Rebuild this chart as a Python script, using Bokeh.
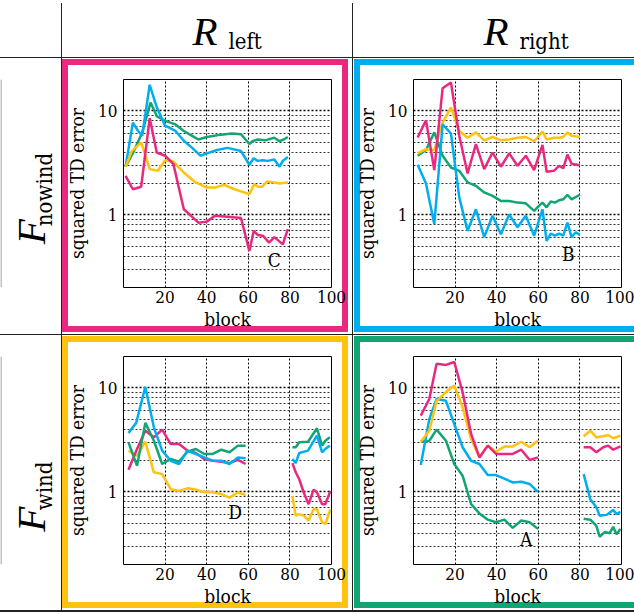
import math
from bokeh.plotting import figure
from bokeh.layouts import row, column
from bokeh.models import Range1d, FixedTicker, NumeralTickFormatter, Spacer
from bokeh.embed import file_html
from bokeh.resources import INLINE
from bokeh.core.properties import value

NaN = float("nan")

MAGENTA = "#E9297F"
CYAN = "#00AEEF"
YELLOW = "#FFC20E"
GREEN = "#12A574"
LINE = "#222222"
SERIF = "DejaVu Serif Condensed"
ITALIC = "Liberation Serif"

# ---------------- data ----------------
x_tick_values = [20, 40, 60, 80, 100]
y_major_ticks = [1, 10]
y_minor_ticks = [0.3, 0.4, 0.5, 0.6, 0.7, 0.8, 0.9, 2, 3, 4, 5, 6, 7, 8, 9]

column_titles = [("R", "left"), ("R", "right")]
row_titles = [("F", "nowind"), ("F", "wind")]

# F_nowind, R_left  (panel C)
nl_green_x = [1, 5, 9, 13, 16, 20, 25, 29, 33, 36, 40, 47, 52, 56.5, 60.5, 62, 64.5, 68, 72.5, 75, 77, 79]
nl_green_y = [2.9, 4.1, 6.2, 12.0, 8.9, 8.0, 7.4, 6.4, 5.75, 5.3, 5.6, 5.9, 6.05, 5.95, 4.8, 5.1, 5.3, 5.2, 5.5, 5.1, 5.3, 5.6]
nl_cyan_x = [1, 4.5, 7, 9, 12.6, 16, 20, 25, 29, 33, 37, 40, 45, 50, 56.5, 60.5, 62.6, 64.5, 67, 69.4, 72.5, 75, 76.6, 79]
nl_cyan_y = [2.9, 7.7, 6.4, 5.75, 17.8, 10.8, 7.2, 6.4, 5.15, 4.4, 3.7, 3.9, 4.2, 4.4, 4.1, 3.03, 3.5, 3.3, 3.35, 3.3, 3.4, 2.9, 3.3, 3.6]
nl_yellow_x = [1, 4, 8.5, 12.6, 16.5, 20, 24, 29, 34, 40, 44, 48.4, 53, 60.5, 62.9, 64.5, 66.6, 69, 72.5, 75, 79]
nl_yellow_y = [2.9, 4.1, 4.96, 2.75, 2.65, 3.35, 3.25, 2.55, 2.09, 1.83, 1.83, 1.94, 1.77, 1.58, 1.97, 1.86, 1.86, 2.09, 2.05, 2.0, 2.05]
nl_magenta_x = [1, 4.5, 8.5, 12.6, 16, 20, 24, 29, 32, 36, 40, 44, 50, 56.5, 60.5, 62.6, 64.5, 67, 70, 72.5, 76.6, 79]
nl_magenta_y = [2.37, 1.76, 1.86, 8.5, 3.97, 3.7, 3.07, 1.13, 1.0, 0.84, 0.86, 0.98, 0.96, 0.93, 0.45, 0.70, 0.64, 0.63, 0.54, 0.61, 0.52, 0.73]

# F_nowind, R_right  (panel B)
nr_magenta_x = [2, 6, 10, 14, 18, 22, 26, 30, 34, 38, 42, 46, 50, 54, 58, 62, 64, 67.5, 70, 72, 74, 76, 80]
nr_magenta_y = [5.54, 8.1, 2.69, 16.5, 18.7, 5.75, 2.5, 4.78, 2.75, 3.97, 2.9, 3.9, 2.96, 3.7, 2.69, 4.7, 2.6, 2.65, 2.96, 2.8, 3.8, 3.1, 3.0]
nr_yellow_x = [2, 6, 10, 14, 18, 22, 26, 30, 34, 38, 42, 46, 50, 54, 58, 62, 64, 67.5, 70, 72, 74, 76, 80]
nr_yellow_y = [3.9, 4.28, 4.2, 7.7, 10.8, 6.4, 5.5, 6.2, 5.2, 5.6, 5.2, 5.3, 5.5, 5.6, 5.1, 6.3, 5.3, 5.5, 5.5, 5.6, 6.2, 5.75, 5.6]
nr_green_x = [2, 6, 10, 14, 18, 22, 26, 30, 34, 38, 42, 46, 50, 54, 58, 60.3, 62, 64, 66, 68, 70, 72, 74, 76, 80]
nr_green_y = [3.7, 4.2, 6.2, 3.7, 2.85, 2.65, 2.05, 1.9, 1.64, 1.52, 1.36, 1.36, 1.31, 1.29, 1.09, 1.22, 1.31, 1.18, 1.34, 1.31, 1.38, 1.41, 1.56, 1.41, 1.56]
nr_cyan_x = [2, 6, 10, 14, 18, 22, 26, 30, 34, 38, 42, 46, 50, 54, 58, 62, 64, 66, 68, 70, 72, 74, 76, 78, 80]
nr_cyan_y = [3.03, 2.0, 0.81, 7.4, 6.05, 1.47, 0.70, 1.13, 0.61, 0.98, 0.65, 1.01, 0.76, 0.98, 0.63, 1.13, 0.56, 0.66, 0.63, 0.66, 0.63, 0.84, 0.61, 0.68, 0.64]

# F_wind, R_left  (panel D)
wl_cyan_x = [2.4, 6.1, 10.5, 14.6, 18.6, 22.7, 26.7, 30.7, 34.8, 38.8, 42.9, 47, 51, 55, 58.7, NaN, 81.2, 82.8, 84.5, 88.7, 93, 95.5, 97, 99.2]
wl_cyan_y = [3.68, 4.6, 10.2, 4.17, 2.49, 1.99, 1.85, 2.49, 2.31, 2.14, 1.99, 1.99, 1.85, 2.14, 2.1, NaN, 2.07, 1.89, 2.36, 2.49, 3.47, 2.4, 2.58, 2.78]
wl_green_x = [2.4, 6.5, 10.5, 14.6, 18.6, 22.7, 26.7, 30.7, 34.8, 38.8, 42.9, 47, 51, 55, 58.7, NaN, 81.2, 82.8, 84.5, 88.7, 93, 95.5, 97, 99.2]
wl_green_y = [2.99, 1.78, 4.6, 3.1, 1.85, 2.07, 1.95, 2.43, 2.58, 2.31, 2.31, 2.54, 2.4, 2.78, 2.78, NaN, 2.68, 2.68, 2.99, 3.03, 4.08, 2.78, 3.1, 3.34]
wl_magenta_x = [2.4, 6.5, 10.5, 14.6, 18.6, 22.7, 26.7, 30.7, 34.8, 38.8, 42.9, 47, 51, 55, 58.7, NaN, 81.2, 82.8, 84.5, 86.6, 89, 91.4, 93, 95.5, 97, 99.5]
wl_magenta_y = [1.63, 2.58, 3.87, 3.34, 3.96, 2.88, 2.88, 2.49, 2.36, 2.07, 1.99, 1.95, 1.89, 2.03, 1.85, NaN, 1.89, 1.54, 1.32, 0.99, 0.76, 1.05, 0.99, 0.76, 0.76, 1.02]
wl_yellow_x = [2.4, 6.5, 10.5, 14.6, 18.6, 22.7, 26.7, 30.7, 34.8, 38.8, 42.9, 47, 51, 55, 58.7, NaN, 81.2, 82.8, 84.5, 86.6, 89, 91.4, 93, 95.5, 97, 99.5]
wl_yellow_y = [2.49, 2.22, 3.03, 1.54, 1.48, 1.06, 1.02, 1.08, 1.05, 0.99, 0.99, 0.95, 0.88, 0.99, 0.93, NaN, 0.91, 0.59, 0.61, 0.59, 0.53, 0.68, 0.68, 0.51, 0.49, 0.68]

# F_wind, R_right  (panel A)
wr_magenta_x = [3.5, 7.6, 11.1, 15.6, 19.6, 23.6, 27.7, 31.7, 35.7, 39.7, 43.7, 47.7, 51.8, 55.8, 59.8, NaN, 81.8, 85, 87.9, 91.2, 93.6, 96, 99.5]
wr_magenta_y = [5.41, 7.8, 17.0, 16.6, 17.7, 9.1, 3.6, 2.14, 2.78, 2.31, 2.31, 2.31, 2.54, 2.03, 2.14, NaN, 2.68, 2.68, 2.4, 2.68, 2.78, 2.54, 2.73]
wr_yellow_x = [3.5, 7.6, 11.1, 15.6, 19.6, 23.6, 27.7, 31.7, 35.7, 39.7, 43.7, 47.7, 51.8, 55.8, 59.8, NaN, 81.8, 85, 87.9, 91.2, 93.6, 96, 99.5]
wr_yellow_y = [3.03, 3.87, 7.5, 9.1, 10.5, 6.5, 3.22, 2.14, 2.78, 2.43, 2.73, 2.73, 3.03, 2.68, 3.1, NaN, 3.42, 3.87, 3.34, 3.42, 3.52, 3.27, 3.47]
wr_cyan_x = [3.5, 7.6, 11.1, 15.6, 19.6, 23.6, 27.7, 31.7, 35.7, 39.7, 43.7, 47.7, 51.8, 55.8, 59.8, NaN, 81.8, 85, 87.9, 89.5, 92.8, 96, 97.6, 99.5]
wr_cyan_y = [1.81, 5.0, 7.8, 7.5, 4.49, 2.68, 1.99, 1.85, 1.45, 1.45, 1.34, 1.23, 1.25, 1.19, 1.0, NaN, 1.48, 0.85, 0.71, 0.59, 0.6, 0.67, 0.61, 0.64]
wr_green_x = [3.5, 7.6, 11.1, 15.6, 19.6, 23.6, 27.7, 31.7, 35.7, 39.7, 43.7, 47.7, 51.8, 55.8, 59.8, NaN, 81.8, 85, 87.9, 89.5, 91.9, 94.3, 96, 97.6, 99.5]
wr_green_y = [3.03, 3.1, 3.96, 3.1, 1.85, 1.43, 0.76, 0.62, 0.54, 0.51, 0.54, 0.45, 0.53, 0.51, 0.44, NaN, 0.55, 0.54, 0.47, 0.37, 0.41, 0.4, 0.46, 0.39, 0.44]


# ---------------- helpers ----------------
def plain(w, h):
    p = figure(width=w, height=h, x_range=Range1d(0, w), y_range=Range1d(0, h),
               x_axis_type=None, y_axis_type=None, min_border=0,
               output_backend="svg", toolbar_location=None,
               outline_line_color=None, background_fill_color="white",
               border_fill_color="white")
    p.xgrid.visible = False
    p.ygrid.visible = False
    return p


def rect_px(p, h, x0, x1, y0, y1, color):
    p.quad(left=[x0], right=[x1], top=[h - y0], bottom=[h - y1],
           fill_color=color, line_color=None)


def vline(h, start=0):
    bg = f"linear-gradient(to bottom, white {start}px, {LINE} {start}px)"
    return Spacer(width=1, height=h, styles={"background": bg})


def hline(w, h=1):
    return Spacer(width=w, height=h, styles={"background": LINE})


def put_text(p, h, x, y, txt, size, font, style="normal", angle=0.0, align="left"):
    p.text(x=[x], y=[h - y], text=[txt], angle=angle,
           text_font=value(font), text_font_style=style,
           text_font_size=size, text_color="black",
           text_align=align, text_baseline="middle")


def make_panel(w, h, fl, ft, fw, fh, shadow, series, letter, lx, ly):
    p = figure(width=w, height=h, x_range=Range1d(0, 100),
               y_range=Range1d(0.2, 20), y_axis_type="log",
               output_backend="svg", toolbar_location=None,
               min_border_left=fl, min_border_right=w - fl - fw,
               min_border_top=ft, min_border_bottom=h - ft - fh,
               background_fill_color="white", border_fill_color=None,
               outline_line_color="black", outline_line_width=1,
               outline_line_alpha=1, styles={"box-shadow": shadow})
    p.xaxis.ticker = FixedTicker(ticks=x_tick_values)
    p.yaxis.ticker = FixedTicker(ticks=y_major_ticks, minor_ticks=y_minor_ticks)
    p.yaxis.formatter = NumeralTickFormatter(format="0")
    p.xaxis.axis_label = "block"
    p.yaxis.axis_label = "squared TD error"
    for ax in (p.xaxis[0], p.yaxis[0]):
        ax.major_tick_out = 0
        ax.major_tick_in = 0
        ax.minor_tick_out = 0
        ax.minor_tick_in = 0
        ax.axis_line_color = None
        ax.major_label_text_font = SERIF
        ax.major_label_text_font_size = "17px"
        ax.major_label_text_color = "black"
        ax.axis_label_text_font = SERIF
        ax.axis_label_text_font_size = "19px"
        ax.axis_label_text_font_style = "normal"
        ax.axis_label_text_color = "black"
    p.xaxis.major_label_standoff = 3
    p.xaxis.axis_label_standoff = 2
    p.yaxis.major_label_standoff = 6
    p.yaxis.axis_label_standoff = 7
    p.xgrid.grid_line_color = "black"
    p.xgrid.grid_line_dash = "2 2"
    p.xgrid.grid_line_width = 1
    p.ygrid.grid_line_color = "black"
    p.ygrid.grid_line_dash = "2 2"
    p.ygrid.grid_line_width = 1.3
    p.ygrid.minor_grid_line_color = "black"
    p.ygrid.minor_grid_line_dash = "2 2"
    p.ygrid.minor_grid_line_width = 0.8

    for xs, ys, c in series:
        p.line(xs, ys, line_color=c, line_width=2.5)

    p.text(x=[lx], y=[ly], text=[letter], text_font=value(SERIF),
           text_font_size="19px", text_color="black",
           text_align="center", text_baseline="middle")
    return p


def shadow_full(color):
    return ("inset 0 1px 0 0 white, inset -4px 0 0 0 white, inset 0 -2px 0 0 white, "
            f"inset 0 7px 0 0 {color}, inset 6px 0 0 0 {color}, "
            f"inset -10px 0 0 0 {color}, inset 0 -8px 0 0 {color}")


def shadow_open(color):
    return ("inset 1px 0 0 0 white, inset 0 1px 0 0 white, inset 0 -2px 0 0 white, "
            f"inset 7px 0 0 0 {color}, inset 0 7px 0 0 {color}, inset 0 -8px 0 0 {color}")


# ---------------- header row ----------------
corner = plain(61, 57)
head_l = plain(290, 57)
put_text(head_l, 57, 130, 30, column_titles[0][0], "41px", ITALIC, "italic")
put_text(head_l, 57, 166, 41, column_titles[0][1], "22px", SERIF)
head_r = plain(281, 57)
put_text(head_r, 57, 130, 30, column_titles[1][0], "41px", ITALIC, "italic")
put_text(head_r, 57, 166, 41, column_titles[1][1], "22px", SERIF)

# ---------------- row labels ----------------
lab_b = plain(61, 276)
rect_px(lab_b, 276, 0, 1, 0, 276, "#888888")
put_text(lab_b, 276, 30, 260 - 58, row_titles[0][0], "41px", ITALIC, "italic", math.pi / 2, "center")
put_text(lab_b, 276, 44, 204 - 58, row_titles[0][1], "22px", SERIF, "normal", math.pi / 2, "center")

lab_c = plain(61, 275)
rect_px(lab_c, 275, 0, 1, 0, 275, "#888888")
put_text(lab_c, 275, 30, 550 - 335, row_titles[1][0], "41px", ITALIC, "italic", math.pi / 2, "center")
put_text(lab_c, 275, 44, 506 - 335, row_titles[1][1], "22px", SERIF, "normal", math.pi / 2, "center")

# ---------------- panels ----------------
p1 = make_panel(290, 276, 61, 21, 208, 208, shadow_full(MAGENTA),
                [(nl_green_x, nl_green_y, GREEN), (nl_cyan_x, nl_cyan_y, CYAN),
                 (nl_yellow_x, nl_yellow_y, YELLOW), (nl_magenta_x, nl_magenta_y, MAGENTA)],
                "C", 72.5, 0.37)
p2 = make_panel(281, 276, 60, 21, 208, 208, shadow_open(CYAN),
                [(nr_green_x, nr_green_y, GREEN), (nr_yellow_x, nr_yellow_y, YELLOW),
                 (nr_magenta_x, nr_magenta_y, MAGENTA), (nr_cyan_x, nr_cyan_y, CYAN)],
                "B", 74.4, 0.42)
p3 = make_panel(290, 275, 61, 21, 208, 208, shadow_full(YELLOW),
                [(wl_yellow_x, wl_yellow_y, YELLOW), (wl_magenta_x, wl_magenta_y, MAGENTA),
                 (wl_green_x, wl_green_y, GREEN), (wl_cyan_x, wl_cyan_y, CYAN)],
                "D", 53.7, 0.64)
p4 = make_panel(281, 275, 60, 21, 208, 208, shadow_open(GREEN),
                [(wr_green_x, wr_green_y, GREEN), (wr_cyan_x, wr_cyan_y, CYAN),
                 (wr_yellow_x, wr_yellow_y, YELLOW), (wr_magenta_x, wr_magenta_y, MAGENTA)],
                "A", 54.2, 0.35)

layout = column(
    row(corner, vline(57, 3), head_l, vline(57, 3), head_r, spacing=0),
    hline(634),
    row(lab_b, vline(276), p1, vline(276), p2, spacing=0),
    hline(634),
    row(lab_c, vline(275), p3, vline(275), p4, spacing=0),
    hline(634, 2),
    spacing=0)

open("out.html", "w").write(file_html(layout, INLINE))
